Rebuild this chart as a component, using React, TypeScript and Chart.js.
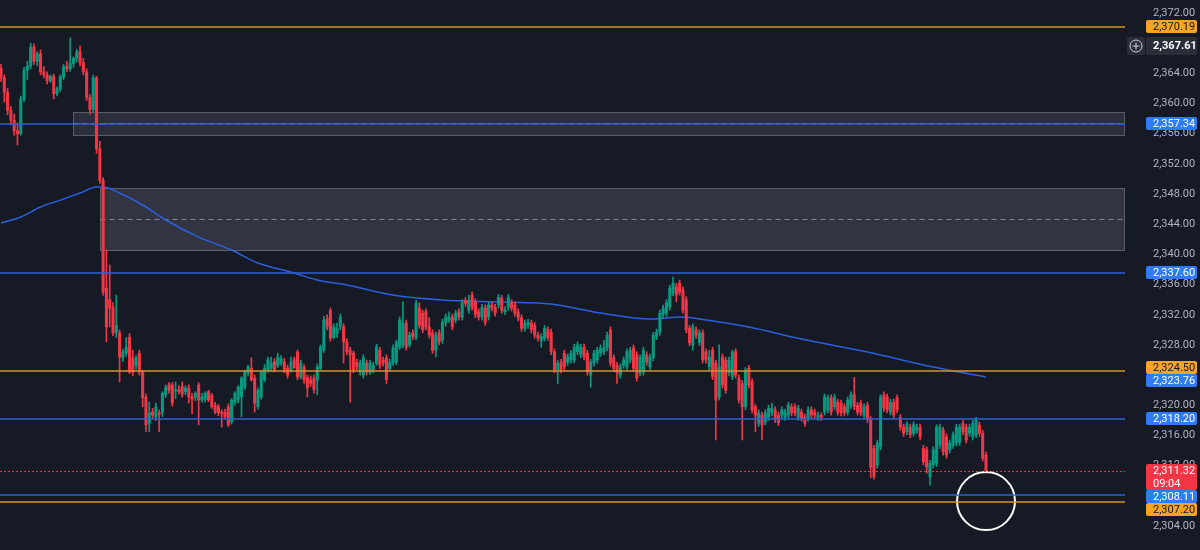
import React, { useEffect, useRef } from "react";
import { Chart, registerables } from "chart.js";

Chart.register(...registerables);

// ---- Candles [open, high, low, close] (15m bars, XAUUSD style) ----
const candlesLeadIn: number[][] = [
  [2364.7, 2365.2, 2362.9, 2363.4], [2363.4, 2363.8, 2360.2, 2361.5], [2361.5, 2362.0, 2358.5, 2359.1],
  [2359.1, 2359.6, 2357.2, 2357.8], [2357.8, 2358.6, 2355.8, 2356.4], [2356.4, 2357.4, 2354.5, 2356.0],
  [2356.0, 2361.0, 2355.8, 2360.6], [2360.6, 2364.8, 2360.2, 2364.4], [2364.4, 2365.6, 2363.2, 2365.0],
  [2365.0, 2368.0, 2364.6, 2367.5], [2367.5, 2367.9, 2365.2, 2365.6], [2365.6, 2366.9, 2365.0, 2366.6],
  [2366.6, 2367.1, 2363.8, 2364.2], [2364.2, 2364.9, 2363.4, 2363.8], [2363.8, 2364.2, 2362.6, 2363.0],
  [2363.0, 2363.8, 2362.8, 2363.6], [2363.6, 2363.9, 2360.6, 2361.3], [2361.3, 2362.2, 2361.0, 2361.9],
  [2361.9, 2363.8, 2361.6, 2363.5], [2363.5, 2365.2, 2363.2, 2364.9], [2364.9, 2365.6, 2364.2, 2364.6],
  [2364.6, 2368.7, 2364.3, 2365.3], [2365.3, 2366.2, 2364.8, 2366.0], [2366.0, 2367.2, 2365.5, 2366.9],
  [2366.9, 2367.6, 2365.0, 2365.4], [2365.4, 2366.0, 2363.8, 2364.2], [2364.2, 2364.6, 2360.4, 2360.8],
  [2360.8, 2361.2, 2358.6, 2359.2], [2359.2, 2363.8, 2358.8, 2363.4], [2363.4, 2363.6, 2353.4, 2354.0],
];

const candlesDrop: number[][] = [
  [2354.0, 2355.0, 2349.4, 2349.8], [2349.8, 2350.2, 2334.6, 2335.0], [2335.5, 2340.6, 2328.4, 2330.4],
  [2334.0, 2338.6, 2330.4, 2332.9], [2333.0, 2333.6, 2329.2, 2329.6], [2329.6, 2334.6, 2329.0, 2330.6],
  [2329.6, 2330.0, 2323.1, 2326.4], [2326.3, 2327.4, 2325.8, 2327.1], [2326.9, 2329.0, 2326.5, 2327.7],
  [2329.0, 2329.5, 2324.2, 2324.4], [2326.3, 2327.3, 2323.9, 2324.4], [2325.3, 2326.6, 2324.8, 2326.3],
  [2326.9, 2327.3, 2324.0, 2324.4], [2324.4, 2324.6, 2319.8, 2321.0], [2321.1, 2321.5, 2316.5, 2317.4],
];

const candlesBase: number[][] = [
  [2317.6, 2320.4, 2316.5, 2319.0], [2319.1, 2319.6, 2318.2, 2318.7], [2318.5, 2320.3, 2318.0, 2319.8],
  [2319.0, 2319.4, 2316.5, 2318.8], [2319.0, 2321.8, 2318.5, 2321.6], [2321.4, 2322.7, 2321.0, 2322.4],
  [2322.7, 2323.0, 2321.6, 2322.0], [2322.7, 2323.0, 2319.9, 2320.3], [2321.9, 2323.1, 2320.9, 2322.0],
  [2322.1, 2322.6, 2321.5, 2321.8], [2322.5, 2323.1, 2321.1, 2321.5], [2321.8, 2322.6, 2321.4, 2322.3],
  [2322.3, 2322.7, 2320.3, 2321.1], [2321.2, 2321.6, 2318.9, 2320.8], [2321.1, 2321.8, 2320.6, 2321.6],
  [2322.7, 2323.0, 2317.4, 2320.7], [2320.7, 2321.6, 2320.4, 2321.1], [2320.8, 2321.8, 2320.4, 2321.6],
  [2321.8, 2322.0, 2320.5, 2320.7], [2321.3, 2321.6, 2319.6, 2319.8], [2320.0, 2320.4, 2318.9, 2319.1],
  [2319.8, 2320.1, 2318.6, 2319.0], [2319.1, 2319.4, 2317.1, 2318.9], [2319.1, 2319.5, 2318.2, 2318.5],
  [2319.8, 2320.2, 2317.2, 2317.4], [2317.8, 2320.9, 2317.5, 2320.7], [2320.4, 2321.8, 2320.0, 2321.6],
  [2320.7, 2322.6, 2320.3, 2322.4], [2321.1, 2323.8, 2318.5, 2323.6], [2322.4, 2324.6, 2322.1, 2324.4],
  [2324.3, 2325.3, 2323.9, 2325.1], [2324.9, 2326.3, 2323.2, 2323.4], [2323.6, 2324.0, 2319.1, 2320.3],
  [2319.8, 2322.3, 2319.5, 2322.0], [2321.1, 2324.6, 2320.8, 2324.4], [2323.4, 2325.4, 2323.1, 2324.9],
  [2324.7, 2326.4, 2324.4, 2326.0], [2324.9, 2326.4, 2324.6, 2325.6], [2325.8, 2326.2, 2324.4, 2324.7],
  [2325.3, 2326.9, 2325.0, 2326.4], [2325.6, 2326.6, 2325.3, 2326.2], [2325.8, 2326.2, 2324.3, 2324.7],
  [2324.9, 2325.3, 2323.6, 2324.0], [2324.7, 2326.4, 2324.4, 2325.7], [2326.0, 2326.4, 2324.9, 2325.0],
];

const candlesRange: number[][] = [
  [2327.06, 2327.3, 2323.4, 2323.75], [2323.75, 2326.0, 2323.5, 2325.6], [2325.0, 2325.4, 2322.9, 2323.35],
  [2323.7, 2324.0, 2321.1, 2322.3], [2323.4, 2323.9, 2322.5, 2322.9], [2323.6, 2324.0, 2321.6, 2322.1],
  [2323.3, 2325.5, 2321.4, 2325.1], [2324.9, 2328.0, 2324.6, 2327.7], [2327.3, 2331.8, 2327.0, 2331.3],
  [2331.5, 2332.0, 2330.0, 2330.4], [2332.6, 2332.9, 2328.5, 2328.9], [2329.0, 2330.8, 2328.8, 2330.4],
  [2329.5, 2330.9, 2329.0, 2330.2], [2330.4, 2332.1, 2330.0, 2331.7], [2330.4, 2330.8, 2325.6, 2328.4],
  [2328.4, 2328.8, 2326.7, 2327.1], [2327.3, 2327.7, 2320.4, 2326.7], [2326.9, 2327.2, 2324.3, 2324.7],
  [2325.7, 2326.1, 2324.7, 2325.1], [2324.4, 2326.0, 2324.0, 2325.6], [2324.0, 2326.7, 2323.6, 2326.3],
  [2325.6, 2326.0, 2324.0, 2324.4], [2324.4, 2326.0, 2324.1, 2325.6], [2324.7, 2325.7, 2324.3, 2325.3],
  [2325.6, 2328.1, 2325.3, 2327.7], [2327.3, 2327.7, 2324.9, 2325.3], [2326.0, 2326.4, 2325.2, 2325.6],
  [2326.3, 2326.7, 2322.9, 2323.4], [2324.9, 2326.1, 2324.5, 2325.7], [2325.6, 2328.0, 2325.3, 2327.6],
  [2325.7, 2328.6, 2325.4, 2328.3], [2327.7, 2331.7, 2327.4, 2331.3], [2328.0, 2333.7, 2327.6, 2330.9],
  [2330.9, 2331.3, 2327.3, 2327.7], [2328.0, 2329.7, 2327.7, 2329.3], [2329.6, 2330.0, 2328.7, 2329.1],
  [2329.0, 2333.9, 2328.7, 2333.5], [2332.9, 2333.6, 2330.2, 2330.6], [2332.2, 2332.6, 2329.6, 2330.0],
  [2332.4, 2332.8, 2330.0, 2330.4], [2330.4, 2331.6, 2328.9, 2329.3], [2329.6, 2330.0, 2326.9, 2327.3],
  [2327.3, 2329.7, 2326.4, 2329.3], [2329.6, 2330.0, 2328.0, 2328.4], [2328.6, 2331.4, 2328.2, 2331.0],
  [2330.9, 2332.1, 2330.5, 2331.7], [2331.3, 2332.4, 2331.0, 2331.7], [2331.7, 2332.1, 2330.0, 2330.4],
  [2331.3, 2332.6, 2330.9, 2332.2], [2332.4, 2332.8, 2331.3, 2331.7], [2331.7, 2334.0, 2331.3, 2333.6],
  [2333.9, 2334.3, 2333.1, 2333.5], [2332.6, 2334.6, 2332.2, 2333.9], [2334.6, 2335.0, 2332.6, 2333.0],
  [2333.7, 2334.1, 2331.6, 2332.0], [2332.4, 2332.8, 2331.3, 2331.7], [2331.7, 2333.4, 2331.3, 2333.0],
  [2332.9, 2333.3, 2330.6, 2331.0], [2331.7, 2333.7, 2331.3, 2333.3], [2333.3, 2333.7, 2332.5, 2332.9],
  [2333.0, 2333.4, 2331.8, 2332.2], [2333.3, 2334.7, 2332.9, 2334.3], [2334.2, 2334.6, 2332.2, 2332.6],
  [2332.4, 2333.1, 2332.0, 2332.7], [2333.0, 2334.7, 2332.6, 2334.3], [2333.6, 2334.0, 2332.5, 2332.9],
  [2333.3, 2333.7, 2331.8, 2332.2], [2332.4, 2332.8, 2331.2, 2331.6], [2331.6, 2332.0, 2329.8, 2330.2],
  [2330.2, 2331.3, 2329.8, 2330.9], [2330.6, 2331.4, 2330.2, 2331.0], [2330.9, 2331.3, 2329.6, 2330.0],
  [2330.6, 2331.0, 2328.9, 2329.3], [2329.3, 2329.7, 2328.5, 2328.9], [2328.6, 2329.5, 2327.7, 2329.1],
  [2328.9, 2330.6, 2328.5, 2330.2],
];

const candlesPeak: number[][] = [
  [2330.0, 2330.4, 2328.6, 2329.0], [2329.7, 2330.1, 2326.7, 2327.1], [2327.1, 2327.5, 2324.3, 2324.7],
  [2324.7, 2326.0, 2322.9, 2325.6], [2325.7, 2326.1, 2324.3, 2324.7], [2326.9, 2327.3, 2324.7, 2325.1],
  [2325.7, 2326.8, 2325.3, 2326.4], [2326.0, 2327.3, 2325.6, 2326.9], [2326.0, 2328.1, 2325.6, 2327.7],
  [2327.1, 2328.4, 2326.7, 2328.0], [2326.7, 2328.1, 2326.3, 2327.7], [2327.7, 2328.1, 2326.0, 2326.4],
  [2326.9, 2327.3, 2324.0, 2324.4], [2324.0, 2326.1, 2322.4, 2325.7], [2325.6, 2327.3, 2325.2, 2326.9],
  [2326.0, 2327.7, 2325.6, 2327.3], [2326.9, 2328.0, 2326.5, 2327.6], [2327.1, 2328.6, 2326.7, 2327.6],
  [2327.6, 2329.7, 2327.2, 2329.3], [2330.0, 2330.4, 2325.2, 2325.6], [2326.3, 2326.7, 2324.5, 2324.9],
  [2325.3, 2325.7, 2322.9, 2324.3], [2324.0, 2325.5, 2323.6, 2325.1], [2325.3, 2326.4, 2324.9, 2326.0],
  [2325.1, 2327.5, 2324.7, 2327.1], [2326.0, 2327.7, 2325.6, 2327.3], [2327.6, 2328.0, 2324.5, 2324.9],
  [2326.7, 2327.1, 2323.2, 2323.6], [2324.3, 2326.7, 2323.9, 2326.3], [2324.4, 2327.7, 2324.0, 2327.3],
  [2326.7, 2327.1, 2325.3, 2325.7], [2325.1, 2326.8, 2324.7, 2326.4], [2326.3, 2329.7, 2325.9, 2329.3],
  [2329.1, 2330.1, 2328.7, 2329.7], [2329.7, 2332.6, 2329.3, 2332.2], [2332.0, 2333.3, 2331.6, 2332.9],
  [2332.2, 2334.0, 2331.8, 2333.6], [2333.0, 2335.9, 2332.6, 2335.5], [2334.9, 2337.0, 2334.5, 2336.2],
  [2335.7, 2336.2, 2333.7, 2334.6], [2336.2, 2336.6, 2334.6, 2335.0], [2335.3, 2335.7, 2332.2, 2332.6],
  [2334.0, 2334.4, 2329.6, 2330.0], [2330.2, 2330.6, 2327.9, 2328.3], [2328.0, 2330.8, 2327.3, 2330.4],
  [2330.0, 2330.4, 2328.9, 2329.3], [2328.3, 2330.0, 2327.9, 2329.6], [2329.6, 2330.0, 2325.6, 2326.0],
  [2327.1, 2327.5, 2325.6, 2326.0], [2325.1, 2327.3, 2324.7, 2326.4], [2327.3, 2327.7, 2323.4, 2323.8],
  [2325.6, 2326.0, 2315.4, 2320.7], [2321.1, 2328.0, 2320.7, 2325.1], [2326.4, 2326.8, 2322.3, 2322.7],
  [2326.0, 2326.4, 2321.6, 2322.0], [2324.3, 2326.4, 2323.9, 2326.0], [2323.8, 2327.3, 2323.4, 2327.1],
  [2327.1, 2327.5, 2323.6, 2324.0], [2323.6, 2324.0, 2320.3, 2320.7], [2322.9, 2323.3, 2315.4, 2319.8],
  [2319.8, 2325.0, 2319.4, 2324.7], [2324.9, 2325.3, 2322.3, 2322.7], [2323.1, 2323.5, 2319.0, 2319.4],
];

const candlesTail: number[][] = [
  [2319.8, 2320.1, 2316.5, 2318.7], [2317.6, 2319.4, 2317.2, 2319.0], [2318.7, 2319.1, 2315.4, 2317.4],
  [2317.8, 2319.4, 2317.4, 2319.0], [2318.4, 2320.0, 2318.0, 2319.6], [2319.0, 2320.3, 2318.6, 2319.6],
  [2319.4, 2319.8, 2317.7, 2318.1], [2318.7, 2319.1, 2317.3, 2317.7], [2318.7, 2319.8, 2318.3, 2319.4],
  [2318.4, 2319.5, 2318.0, 2319.1], [2318.7, 2320.4, 2318.3, 2320.0], [2319.8, 2320.2, 2318.6, 2319.0],
  [2319.8, 2320.2, 2318.6, 2319.0], [2318.4, 2320.0, 2318.0, 2319.6], [2319.1, 2319.5, 2317.9, 2318.3],
  [2318.4, 2318.8, 2317.2, 2317.6], [2318.3, 2319.8, 2317.9, 2319.4], [2319.4, 2319.8, 2318.3, 2318.7],
  [2319.1, 2319.5, 2318.3, 2318.7], [2318.4, 2319.1, 2318.0, 2318.7], [2318.7, 2319.0, 2318.0, 2318.4],
  [2319.1, 2321.5, 2318.7, 2321.1], [2319.4, 2321.4, 2319.0, 2321.0], [2321.0, 2321.4, 2318.7, 2319.1],
  [2319.8, 2321.5, 2319.4, 2321.1], [2320.4, 2320.8, 2318.7, 2319.1], [2320.3, 2320.7, 2318.6, 2319.0],
  [2319.8, 2320.2, 2318.6, 2319.0], [2319.1, 2321.1, 2318.7, 2320.7], [2320.0, 2321.8, 2319.6, 2321.4],
  [2321.4, 2323.7, 2319.4, 2319.8], [2320.0, 2320.4, 2318.7, 2319.1], [2320.3, 2320.7, 2318.6, 2319.0],
  [2318.7, 2320.2, 2318.3, 2319.8], [2320.0, 2320.4, 2317.7, 2318.1], [2318.1, 2318.5, 2310.4, 2311.8],
  [2314.3, 2314.7, 2310.2, 2310.5], [2312.1, 2315.4, 2311.7, 2315.0], [2314.5, 2321.4, 2314.1, 2321.1],
  [2321.4, 2321.8, 2319.2, 2319.6], [2321.1, 2321.5, 2319.0, 2319.4], [2319.1, 2320.8, 2318.7, 2320.4],
  [2320.4, 2320.8, 2318.3, 2318.7], [2321.0, 2321.4, 2319.0, 2319.4], [2318.4, 2318.8, 2316.7, 2317.1],
  [2317.1, 2317.5, 2315.9, 2316.3], [2316.5, 2317.8, 2316.1, 2317.4], [2317.1, 2317.5, 2315.7, 2316.1],
  [2316.3, 2317.8, 2315.9, 2317.4], [2316.7, 2317.5, 2316.3, 2317.1], [2317.1, 2317.5, 2315.4, 2315.8],
  [2314.3, 2314.7, 2312.1, 2312.5], [2314.1, 2314.5, 2311.0, 2311.8], [2310.5, 2312.7, 2309.4, 2312.3],
  [2312.1, 2314.5, 2311.7, 2314.1], [2312.3, 2317.4, 2311.9, 2317.1], [2314.7, 2317.5, 2314.3, 2317.1],
  [2316.7, 2317.1, 2313.4, 2313.8], [2315.8, 2316.2, 2313.0, 2313.4], [2314.1, 2315.4, 2313.7, 2315.0],
  [2314.7, 2316.5, 2314.3, 2316.1], [2315.0, 2317.5, 2314.6, 2317.1], [2315.1, 2317.5, 2314.7, 2317.1],
  [2317.6, 2318.0, 2316.1, 2316.5], [2317.1, 2317.5, 2315.0, 2315.4], [2316.3, 2317.5, 2315.9, 2317.1],
  [2315.8, 2318.0, 2315.4, 2317.6], [2316.1, 2318.4, 2315.7, 2318.1], [2317.4, 2317.8, 2315.9, 2316.3],
  [2316.3, 2316.7, 2312.6, 2313.0], [2313.4, 2313.8, 2311.0, 2311.32],
];

// ---- Moving average (bar index -> value) ----
const maIndex = [0, 6, 12, 18, 24, 29, 31, 36, 43, 50, 60, 70, 78, 89, 96, 105, 119, 134, 152, 167, 182, 197, 207, 212, 227, 243, 263, 283, 299];
const maValues = [2344.16, 2344.96, 2346.28, 2347.2, 2348.14, 2348.93, 2348.93, 2348.14, 2346.55, 2344.56, 2342.3, 2340.58, 2338.86, 2337.53, 2336.6, 2335.95, 2334.62, 2333.96, 2333.69, 2333.42, 2332.23, 2331.44, 2331.7, 2331.44, 2330.37, 2328.79, 2327.06, 2325.07, 2323.76];

// ---- Axis ticks ----
const yTicks = [2372, 2364, 2360, 2356, 2352, 2348, 2344, 2340, 2336, 2332, 2328, 2320, 2316, 2312, 2304];

// ---- Horizontal levels ----
const levelValues = [2370.19, 2357.34, 2337.6, 2324.5, 2318.2, 2311.32, 2308.11, 2307.2];
const levelKinds = ["orange", "blue", "blue", "orange", "blue", "red", "blue", "orange"];

// ---- Zones (rectangles) ----
const zoneStart = [22, 30];
const zoneTop = [2358.92, 2348.8];
const zoneBottom = [2355.83, 2340.58];

// ---- Price-axis labels ----
const labelValues = [2370.19, 2367.61, 2357.34, 2337.6, 2324.5, 2323.76, 2318.2, 2311.32, 2308.11, 2307.2];
const labelKinds = ["orange", "cursor", "blue", "blue", "orange", "blue", "blue", "red", "blue", "orange"];
const countdown = "09:04";

// ---- Circle marker ----
const markerIndex = 299;
const markerPrice = 2307.3;

const candles = [...candlesLeadIn, ...candlesDrop, ...candlesBase, ...candlesRange, ...candlesPeak, ...candlesTail];

const BG = "#161a25";
const UP = "#089981";
const DOWN = "#f23645";
const TICK_COLOR = "#b2b5be";
const lineColor: Record<string, string> = { orange: "#d8902c", blue: "#2d62d8", red: "#f23645" };
const labelBg: Record<string, string> = { orange: "#f7a425", blue: "#2f7cf6", red: "#f23645", cursor: "#2a2e39" };
const labelFg: Record<string, string> = { orange: "#131722", blue: "#ffffff", red: "#ffffff", cursor: "#ffffff" };
const zoneFill = ["rgba(190,192,210,0.13)", "rgba(190,192,210,0.17)"];

const fmt = (v: number) => v.toLocaleString("en-US", { minimumFractionDigits: 2, maximumFractionDigits: 2 });

function rrect(ctx: CanvasRenderingContext2D, x: number, y: number, w: number, h: number, r: number) {
  ctx.beginPath();
  ctx.moveTo(x + r, y);
  ctx.lineTo(x + w - r, y);
  ctx.quadraticCurveTo(x + w, y, x + w, y + r);
  ctx.lineTo(x + w, y + h - r);
  ctx.quadraticCurveTo(x + w, y + h, x + w - r, y + h);
  ctx.lineTo(x + r, y + h);
  ctx.quadraticCurveTo(x, y + h, x, y + h - r);
  ctx.lineTo(x, y + r);
  ctx.quadraticCurveTo(x, y, x + r, y);
  ctx.closePath();
}

const overlayPlugin = {
  id: "tvOverlay",
  beforeDraw(chart: any) {
    const { ctx, width, height } = chart;
    ctx.save();
    ctx.fillStyle = BG;
    ctx.fillRect(0, 0, width, height);
    ctx.restore();
  },
  beforeDatasetsDraw(chart: any) {
    const { ctx, chartArea } = chart;
    const xs = chart.scales.x;
    const ys = chart.scales.y;
    ctx.save();
    zoneTop.forEach((top, k) => {
      const x0 = Math.round(xs.getPixelForValue(zoneStart[k])) + 0.5;
      const x1 = chartArea.right - 0.5;
      const y0 = Math.round(ys.getPixelForValue(top)) + 0.5;
      const y1 = Math.round(ys.getPixelForValue(zoneBottom[k])) + 0.5;
      ctx.fillStyle = zoneFill[k];
      ctx.fillRect(x0, y0, x1 - x0, y1 - y0);
      ctx.setLineDash([]);
      ctx.lineWidth = 1;
      ctx.strokeStyle = "rgba(200,202,215,0.35)";
      ctx.strokeRect(x0, y0, x1 - x0, y1 - y0);
      const ym = Math.round(ys.getPixelForValue((top + zoneBottom[k]) / 2)) + 0.5;
      ctx.setLineDash([5, 4]);
      ctx.strokeStyle = "rgba(200,202,215,0.55)";
      ctx.beginPath();
      ctx.moveTo(x0, ym);
      ctx.lineTo(x1, ym);
      ctx.stroke();
    });
    ctx.restore();
  },
  afterDatasetsDraw(chart: any) {
    const { ctx, chartArea } = chart;
    const ys = chart.scales.y;
    ctx.save();
    levelValues.forEach((v, k) => {
      const kind = levelKinds[k];
      const y = Math.round(ys.getPixelForValue(v));
      ctx.strokeStyle = lineColor[kind];
      ctx.lineWidth = kind === "red" ? 1 : 1.5;
      ctx.setLineDash(kind === "red" ? [2, 2] : []);
      ctx.beginPath();
      const yy = kind === "red" ? y + 0.5 : y;
      ctx.moveTo(chartArea.left, yy);
      ctx.lineTo(chartArea.right, yy);
      ctx.stroke();
    });
    ctx.restore();
  },
  afterDraw(chart: any) {
    const { ctx, chartArea } = chart;
    const ys = chart.scales.y;
    const H = 13;
    const BX = chartArea.right + 21;
    const BW = 51;
    const items = labelValues
      .map((v, k) => {
        const kind = labelKinds[k];
        const h = kind === "red" ? 26 : kind === "cursor" ? 18 : H;
        const yc = ys.getPixelForValue(v);
        const top = kind === "red" ? yc - H / 2 : yc - h / 2;
        return { v, kind, h, top, want: top, fixed: kind === "red" };
      })
      .sort((a, b) => a.top - b.top);
    const clusters: any[][] = [];
    let cur: any[] = [];
    items.forEach((it, i) => {
      if (i > 0) {
        const prev = items[i - 1];
        const pb = prev.top + prev.h;
        if (it.top < pb) {
          it.top = pb;
          cur.push(it);
          return;
        }
      }
      cur = [it];
      clusters.push(cur);
    });
    clusters.forEach((cl) => {
      if (cl.length > 1 && !cl.some((c) => c.fixed)) {
        const shift = cl.reduce((s, c) => s + (c.top - c.want), 0) / cl.length;
        cl.forEach((c) => (c.top -= shift));
      }
    });
    ctx.save();
    ctx.font = "11px Roboto";
    ctx.textBaseline = "middle";
    ctx.textAlign = "left";
    items.forEach((it) => {
      const top = Math.round(it.top);
      if (it.kind === "cursor") {
        ctx.fillStyle = labelBg.cursor;
        rrect(ctx, chartArea.right + 2, top, 18, it.h, 2);
        ctx.fill();
        const cx = chartArea.right + 11;
        const cy = top + it.h / 2;
        ctx.strokeStyle = "#d1d4dc";
        ctx.lineWidth = 1;
        ctx.beginPath();
        ctx.arc(cx, cy, 6, 0, Math.PI * 2);
        ctx.stroke();
        ctx.beginPath();
        ctx.moveTo(cx - 3.5, cy);
        ctx.lineTo(cx + 3.5, cy);
        ctx.moveTo(cx, cy - 3.5);
        ctx.lineTo(cx, cy + 3.5);
        ctx.stroke();
      }
      ctx.fillStyle = labelBg[it.kind];
      rrect(ctx, BX, top, BW, it.h, 2);
      ctx.fill();
      ctx.fillStyle = labelFg[it.kind];
      ctx.font = it.kind === "cursor" ? "bold 11px Roboto" : "11px Roboto";
      const firstY = it.kind === "red" ? top + 7 : top + it.h / 2 + 0.5;
      ctx.fillText(fmt(it.v), BX + 7, firstY);
      if (it.kind === "red") {
        ctx.fillText(countdown, BX + 7, top + 20);
      }
    });
    ctx.restore();
  },
};

export default function App() {
  const canvasRef = useRef<HTMLCanvasElement | null>(null);

  useEffect(() => {
    if (!canvasRef.current) return;
    Chart.defaults.font.family = "Roboto";
    const colors = candles.map((c) => (c[3] >= c[0] ? UP : DOWN));
    const wickData = candles.map((c, i) => ({ x: i, y: [c[2], c[1]] }));
    const bodyData = candles.map((c, i) => ({ x: i, y: [Math.min(c[0], c[3]), Math.max(c[0], c[3])] }));
    const maData = maIndex.map((x, k) => ({ x, y: maValues[k] }));
    const lastIdx = candles.length - 1;
    const spacing = 985 / lastIdx;

    const chart = new Chart(canvasRef.current, {
      type: "bar",
      data: {
        datasets: [
          {
            type: "scatter",
            data: [{ x: markerIndex, y: markerPrice }],
            pointRadius: 29,
            pointBorderColor: "#ffffff",
            pointBackgroundColor: "rgba(0,0,0,0)",
            pointBorderWidth: 2,
            clip: false,
            order: 0,
          } as any,
          {
            type: "bar",
            data: bodyData as any,
            backgroundColor: colors,
            barThickness: 2.4,
            grouped: false,
            minBarLength: 1,
            order: 1,
          } as any,
          {
            type: "bar",
            data: wickData as any,
            backgroundColor: colors,
            barThickness: 1,
            grouped: false,
            order: 2,
          } as any,
          {
            type: "line",
            data: maData as any,
            borderColor: "#2b5fe0",
            borderWidth: 1.5,
            pointRadius: 0,
            tension: 0.35,
            cubicInterpolationMode: "monotone",
            order: 3,
          } as any,
        ],
      },
      options: {
        responsive: false,
        maintainAspectRatio: false,
        animation: false,
        devicePixelRatio: 1,
        events: [],
        layout: { padding: 0, autoPadding: false },
        plugins: { legend: { display: false }, tooltip: { enabled: false } },
        scales: {
          x: {
            type: "linear",
            display: false,
            offset: false,
            min: -1 / spacing,
            max: -1 / spacing + 1125 / spacing,
          },
          y: {
            type: "linear",
            position: "right",
            min: 2300.82,
            max: 2373.723,
            beginAtZero: false,
            grid: { display: false, drawTicks: false },
            border: { display: false },
            afterBuildTicks: (scale: any) => {
              scale.ticks = yTicks.map((v) => ({ value: v }));
            },
            afterFit: (scale: any) => {
              scale.width = 75;
              scale.paddingTop = 0;
              scale.paddingBottom = 0;
              scale.paddingLeft = 0;
              scale.paddingRight = 0;
            },
            ticks: {
              padding: 28,
              color: TICK_COLOR,
              font: { size: 11, family: "Roboto" },
              callback: (v: any) => fmt(Number(v)),
            },
          },
        },
      } as any,
      plugins: [overlayPlugin],
    });
    return () => chart.destroy();
  }, []);

  return (
    <div style={{ position: "fixed", left: 0, top: 0, width: 1200, height: 550, background: BG }}>
      <canvas ref={canvasRef} width={1200} height={550} style={{ display: "block", width: 1200, height: 550 }} />
    </div>
  );
}
